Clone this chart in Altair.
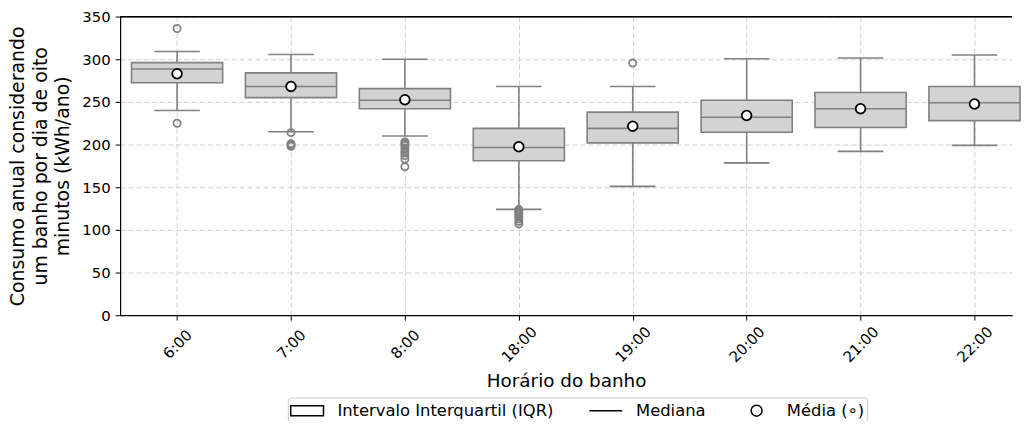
import altair as alt
import pandas as pd

hours = ["6:00", "7:00", "8:00", "18:00", "19:00", "20:00", "21:00", "22:00"]
q1 = [272.5, 255, 242, 181, 202, 214.5, 220, 228]
median = [288.5, 268, 252, 196.5, 219, 232, 242, 249]
q3 = [296, 284, 265.5, 219, 238, 252, 261, 268]
lower = [240, 215, 210, 124, 151, 178.5, 192, 199]
upper = [309, 305.5, 300, 268, 268, 300.5, 301.5, 305]
mean = [283, 268, 252.5, 197.5, 221.5, 234, 242, 247.5]

outliers = {
    "6:00": [336, 225],
    "7:00": [214, 201, 199.5, 198],
    "8:00": [203, 201, 199, 196, 193, 190, 187, 183, 174],
    "18:00": [124, 122, 120, 118, 116, 113, 110, 107],
    "19:00": [295.5],
}

legend_items = ["Intervalo Interquartil (IQR)", "Mediana", "Média (∘)"]

FONT = "DejaVu Sans"
GRAY = "#808080"
BOXFILL = "#d3d3d3"

df = pd.DataFrame({
    "hour": hours, "idx": list(range(len(hours))),
    "q1": q1, "median": median, "q3": q3,
    "lower": lower, "upper": upper, "mean": mean,
})
out_rows = []
for h, vals in outliers.items():
    for v in vals:
        out_rows.append({"hour": h, "idx": hours.index(h), "value": v})
df_out = pd.DataFrame(out_rows)
df_leg = pd.DataFrame({"item": legend_items})

xdom = [-0.5, 7.33]
label_expr = "[" + ",".join("'%s'" % h for h in hours) + "][datum.value]"

xscale = alt.Scale(domain=xdom, nice=False, zero=False)
yscale = alt.Scale(domain=[0, 350], nice=False)

x_axis = alt.Axis(
    values=list(range(len(hours))), labelExpr=label_expr, title="Horário do banho",
    labelAngle=-45, labelAlign="center", labelBaseline="middle", labelPadding=24,
    labelFontSize=15, labelColor="black", tickSize=5, tickColor="black",
    domainColor="black", domainWidth=1.2, grid=True, gridDash=[5, 3],
    gridColor="#cfcfcf", gridWidth=1, titleFontSize=18.5, titleFontWeight="normal",
    titleColor="black", titlePadding=7, labelFlush=False,
)
y_axis = alt.Axis(
    values=list(range(0, 351, 50)),
    title=["Consumo anual considerando", "um banho por dia de oito", "minutos (kWh/ano)"],
    labelFontSize=15, labelColor="black", tickSize=5, tickColor="black", labelPadding=5,
    domainColor="black", domainWidth=1.2, grid=True, gridDash=[5, 3],
    gridColor="#cfcfcf", gridWidth=1, titleFontSize=19, titleFontWeight="normal",
    titleColor="black", titleLineHeight=23, titlePadding=9,
)

base = alt.Chart(df).transform_calculate(
    lo="datum.idx - 0.4", hi="datum.idx + 0.4",
    clo="datum.idx - 0.2", chi="datum.idx + 0.2",
)

X = alt.X("idx:Q", scale=xscale, axis=x_axis)

whisk_up = base.mark_rule(color=GRAY, strokeWidth=1.6).encode(
    x=X, y=alt.Y("q3:Q", scale=yscale, axis=y_axis), y2="upper:Q")
whisk_lo = base.mark_rule(color=GRAY, strokeWidth=1.6).encode(
    x="idx:Q", y="lower:Q", y2="q1:Q")
cap_up = base.mark_rule(color=GRAY, strokeWidth=1.6).encode(
    x="clo:Q", x2="chi:Q", y="upper:Q")
cap_lo = base.mark_rule(color=GRAY, strokeWidth=1.6).encode(
    x="clo:Q", x2="chi:Q", y="lower:Q")
box = base.mark_rect(fill=BOXFILL, stroke=GRAY, strokeWidth=1.6).encode(
    x="lo:Q", x2="hi:Q", y="q1:Q", y2="q3:Q")
med = base.mark_rule(color=GRAY, strokeWidth=1.6).encode(
    x="lo:Q", x2="hi:Q", y="median:Q")
mean_pts = base.mark_point(shape="circle", filled=True, fill="white", stroke="black",
                           strokeWidth=1.8, size=95, opacity=1).encode(
    x="idx:Q", y="mean:Q")
fliers = alt.Chart(df_out).mark_point(shape="circle", filled=False, stroke=GRAY,
                                      strokeWidth=1.8, size=52, opacity=1).encode(
    x="idx:Q", y="value:Q")

top_spine = alt.Chart(df_leg).mark_rule(color="black", strokeWidth=1.2).encode(
    x=alt.datum(xdom[0]), x2=alt.datum(xdom[1]), y=alt.datum(350))

# legend symbols: unit = 10px (symbolSize 400 -> 20px cell); shapes drawn 33px wide
rect_path = "M-1,-0.5H2.3V0.5H-1Z"
line_path = "M-1,0H2.3"
circ_path = "M1.2,0A0.55,0.55,0,1,1,0.1,0A0.55,0.55,0,1,1,1.2,0Z"

legend_layer = alt.Chart(df_leg).mark_point(
    filled=False, color="black", strokeWidth=1.5, clip=True, opacity=1
).encode(
    x=alt.datum(-10), y=alt.datum(-100),
    shape=alt.Shape("item:N", scale=alt.Scale(domain=legend_items,
                                              range=[rect_path, line_path, circ_path]),
                    legend=alt.Legend(
                        title=None, orient="none", legendX=169, legendY=384,
                        direction="horizontal", columns=3, columnPadding=33,
                        symbolSize=400, symbolStrokeColor="black",
                        symbolStrokeWidth=1.5, symbolOpacity=1, labelFontSize=16.5,
                        labelColor="black", labelLimit=500,
                        labelOffset=26, padding=2, strokeColor="#cccccc", fillColor="white",
                        cornerRadius=3, labelFont=FONT,
                    )),
)

chart = alt.layer(
    whisk_up, whisk_lo, cap_up, cap_lo, box, med, fliers, mean_pts, top_spine, legend_layer
).properties(
    width=899, height=301,
    padding={"left": 0, "right": 0, "top": 0, "bottom": -3},
).configure(font=FONT).configure_view(stroke=None)

chart.save("out.html", embed_options={"renderer": "svg", "actions": False})
